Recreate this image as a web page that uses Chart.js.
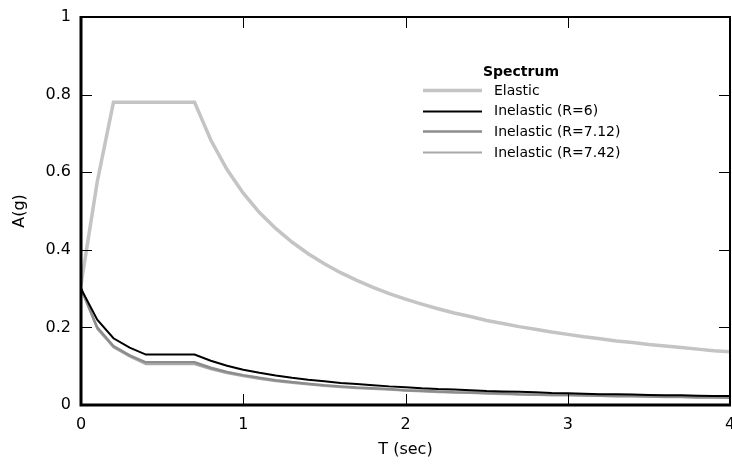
<!DOCTYPE html>
<html>
<head>
<meta charset="utf-8">
<script src="https://cdn.jsdelivr.net/npm/chart.js@4"></script>
<style>
  html, body { margin: 0; padding: 0; background: #fff; overflow: hidden; }
  #wrap { width: 732px; height: 465px; position: relative; }
</style>
</head>
<body>
<div id="wrap"><canvas id="myChart" width="732" height="465"></canvas></div>
<script>
// periods (sec)
var periods = [0, 0.1, 0.2, 0.3, 0.4, 0.5, 0.6, 0.7, 0.8, 0.9,
    1.0, 1.1, 1.2, 1.3, 1.4, 1.5, 1.6, 1.7, 1.8, 1.9,
    2.0, 2.1, 2.2, 2.3, 2.4, 2.5, 2.6, 2.7, 2.8, 2.9,
    3.0, 3.1, 3.2, 3.3, 3.4, 3.5, 3.6, 3.7, 3.8, 3.9, 4.0];

var elastic = [0.31, 0.575, 0.78, 0.78, 0.78, 0.78, 0.78, 0.78, 0.683, 0.607,
    0.546, 0.496, 0.455, 0.42, 0.39, 0.364, 0.341, 0.321, 0.303, 0.287,
    0.273, 0.26, 0.248, 0.237, 0.228, 0.218, 0.21, 0.202, 0.195, 0.188,
    0.182, 0.176, 0.171, 0.165, 0.161, 0.156, 0.152, 0.148, 0.144, 0.14, 0.137];

var inelasticR6 = [0.30, 0.22, 0.172, 0.148, 0.13, 0.13, 0.13, 0.13, 0.114, 0.101,
    0.091, 0.083, 0.076, 0.07, 0.065, 0.061, 0.057, 0.054, 0.051, 0.048,
    0.046, 0.043, 0.041, 0.04, 0.038, 0.036, 0.035, 0.034, 0.033, 0.031,
    0.030, 0.029, 0.028, 0.028, 0.027, 0.026, 0.025, 0.025, 0.024, 0.023, 0.023];

var inelasticR712 = [0.30, 0.20, 0.152, 0.128, 0.11, 0.11, 0.11, 0.11, 0.096, 0.085,
    0.077, 0.07, 0.064, 0.059, 0.055, 0.051, 0.048, 0.045, 0.043, 0.041,
    0.038, 0.037, 0.035, 0.033, 0.032, 0.031, 0.030, 0.028, 0.027, 0.026,
    0.026, 0.025, 0.024, 0.023, 0.023, 0.022, 0.021, 0.021, 0.020, 0.020, 0.019];

var inelasticR742 = [0.30, 0.196, 0.148, 0.125, 0.105, 0.105, 0.105, 0.105, 0.092, 0.082,
    0.074, 0.067, 0.061, 0.057, 0.053, 0.049, 0.046, 0.043, 0.041, 0.039,
    0.037, 0.035, 0.033, 0.032, 0.031, 0.029, 0.028, 0.027, 0.026, 0.025,
    0.025, 0.024, 0.023, 0.022, 0.022, 0.021, 0.020, 0.020, 0.019, 0.019, 0.018];

var seriesLabels = ['Elastic', 'Inelastic (R=6)', 'Inelastic (R=7.12)', 'Inelastic (R=7.42)'];
var xTicks = [0, 1, 2, 3, 4];
var yTicks = [0, 0.2, 0.4, 0.6, 0.8, 1];

var fontFamily = '"DejaVu Sans", sans-serif';

function points(values) {
    return periods.map(function(t, i) { return { x: t, y: values[i] }; });
}

// frame, inward ticks and legend box
var framePlugin = {
    id: 'frame',
    afterDatasetsDraw: function(chart) {
        var ctx = chart.ctx;
        var a = chart.chartArea;
        var xs = chart.scales.x, ys = chart.scales.y;
        ctx.save();
        ctx.strokeStyle = '#000';
        ctx.lineWidth = 1;
        xTicks.slice(1, -1).forEach(function(v) {
            var px = Math.round(xs.getPixelForValue(v)) + 0.5;
            ctx.beginPath();
            ctx.moveTo(px, a.bottom); ctx.lineTo(px, a.bottom - 11);
            ctx.moveTo(px, a.top); ctx.lineTo(px, a.top + 11);
            ctx.stroke();
        });
        yTicks.slice(1, -1).forEach(function(v) {
            var py = Math.round(ys.getPixelForValue(v)) + 0.5;
            ctx.beginPath();
            ctx.moveTo(a.left, py); ctx.lineTo(a.left + 11, py);
            ctx.moveTo(a.right, py); ctx.lineTo(a.right - 11, py);
            ctx.stroke();
        });
        // top and right borders
        ctx.lineWidth = 2;
        ctx.beginPath();
        ctx.moveTo(a.left, a.top); ctx.lineTo(a.right, a.top); ctx.lineTo(a.right, a.bottom);
        ctx.stroke();
        // left and bottom borders
        ctx.lineWidth = 3;
        ctx.beginPath();
        ctx.moveTo(a.left, a.top - 1); ctx.lineTo(a.left, a.bottom); ctx.lineTo(a.right + 1, a.bottom);
        ctx.stroke();

        // legend
        var lx = 423, ly = 72;
        ctx.fillStyle = '#000';
        ctx.font = 'bold 14px ' + fontFamily;
        ctx.textAlign = 'center';
        ctx.textBaseline = 'middle';
        ctx.fillText('Spectrum', 521, ly);
        ctx.font = '14px ' + fontFamily;
        ctx.textAlign = 'left';
        chart.data.datasets.forEach(function(ds, i) {
            var y = 90 + i * 20.7;
            ctx.strokeStyle = ds.borderColor;
            ctx.lineWidth = ds.borderWidth;
            ctx.beginPath();
            ctx.moveTo(lx, Math.round(y) + 0.5); ctx.lineTo(lx + 59, Math.round(y) + 0.5);
            ctx.stroke();
            ctx.fillText(ds.label, 494, y + 1);
        });
        ctx.restore();
    }
};

var canvas = document.getElementById('myChart').getContext('2d');
var chart = new Chart(canvas, {
    type: 'line',
    data: {
        datasets: [
            { label: seriesLabels[0], data: points(elastic), borderColor: '#c4c4c4', borderWidth: 3.5 },
            { label: seriesLabels[1], data: points(inelasticR6), borderColor: '#000000', borderWidth: 2 },
            { label: seriesLabels[2], data: points(inelasticR712), borderColor: '#8c8c8c', borderWidth: 2.5 },
            { label: seriesLabels[3], data: points(inelasticR742), borderColor: '#a8a8a8', borderWidth: 2 }
        ]
    },
    options: {
        responsive: false,
        animation: false,
        devicePixelRatio: 1,
        layout: { padding: { top: 17, right: 2, left: 0, bottom: 0 } },
        elements: {
            point: { radius: 0 },
            line: { tension: 0, borderCapStyle: 'butt', borderJoinStyle: 'miter' }
        },
        plugins: {
            legend: { display: false },
            tooltip: { enabled: false }
        },
        scales: {
            x: {
                type: 'linear',
                min: 0, max: 4,
                grid: { display: false, drawTicks: false },
                border: { display: false },
                afterBuildTicks: function(s) { s.ticks = xTicks.map(function(v) { return { value: v }; }); },
                afterFit: function(s) { s.height = 60; s.paddingLeft = 0; s.paddingRight = 0; },
                ticks: { color: '#000', padding: 10, autoSkip: false, font: { family: fontFamily, size: 16 }, maxRotation: 0,
                    callback: function(v) { return String(v); } },
                title: { display: true, text: 'T (sec)', color: '#000', font: { family: fontFamily, size: 16 }, padding: { top: 0, bottom: 6 } }
            },
            y: {
                min: 0, max: 1,
                grid: { display: false, drawTicks: false },
                border: { display: false },
                afterBuildTicks: function(s) { s.ticks = yTicks.map(function(v) { return { value: v }; }); },
                afterFit: function(s) { s.width = 81; s.paddingTop = 0; s.paddingBottom = 0; },
                ticks: { color: '#000', padding: 10, autoSkip: false, font: { family: fontFamily, size: 16 },
                    callback: function(v) { return String(v); } },
                title: { display: true, text: 'A(g)', color: '#000', font: { family: fontFamily, size: 16 }, padding: { top: 10, bottom: 0 } }
            }
        }
    },
    plugins: [framePlugin]
});
</script>
</body>
</html>
